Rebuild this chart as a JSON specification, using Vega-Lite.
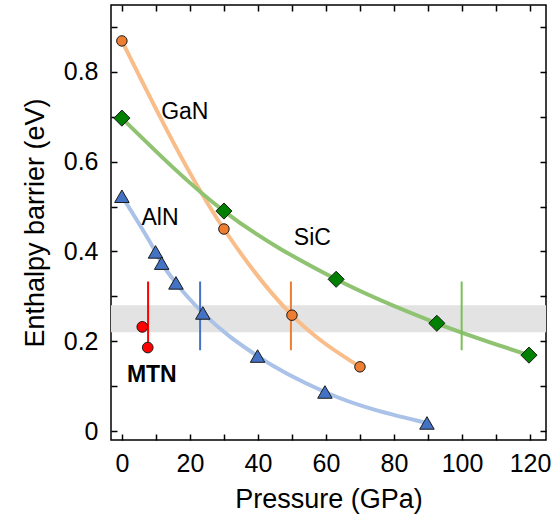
{
  "$schema": "https://vega.github.io/schema/vega-lite/v6.json",
  "width": 435,
  "height": 435,
  "autosize": "none",
  "padding": {"left": 111, "top": 5, "right": 5, "bottom": 80},
  "config": {
    "view": {"stroke": "#000", "strokeWidth": 1.5},
    "font": "Liberation Sans",
    "axis": {
      "domain": false, "grid": false, "tickColor": "#000", "tickSize": -6, "tickWidth": 1.5,
      "labelFontSize": 25, "labelColor": "#000", "titleFontSize": 27, "titleFontWeight": "normal",
      "titleColor": "#000", "labelFont": "Liberation Sans", "titleFont": "Liberation Sans"
    }
  },
  "datasets": {
    "band": [{"lo": 0.22, "hi": 0.28}],
    "curves": [
      {"s": "GaN", "p": 0, "e": 0.869}, {"s": "GaN", "p": 30, "e": 0.45}, {"s": "GaN", "p": 50, "e": 0.258}, {"s": "GaN", "p": 70, "e": 0.143},
      {"s": "SiC", "p": 0, "e": 0.697}, {"s": "SiC", "p": 30, "e": 0.49}, {"s": "SiC", "p": 63, "e": 0.338}, {"s": "SiC", "p": 92.6, "e": 0.24}, {"s": "SiC", "p": 119.7, "e": 0.169},
      {"s": "AlN", "p": 0, "e": 0.523}, {"s": "AlN", "p": 9.9, "e": 0.399}, {"s": "AlN", "p": 11.7, "e": 0.374}, {"s": "AlN", "p": 15.9, "e": 0.33}, {"s": "AlN", "p": 23.8, "e": 0.263}, {"s": "AlN", "p": 39.9, "e": 0.167}, {"s": "AlN", "p": 59.7, "e": 0.087}, {"s": "AlN", "p": 89.7, "e": 0.018}
    ],
    "mtn": [{"s": "MTN", "p": 6, "e": 0.232}, {"s": "MTN", "p": 7.6, "e": 0.186}],
    "bars": [
      {"s": "MTN", "p": 7.7, "hi": 0.333, "lo": 0.19},
      {"s": "AlN", "p": 23, "hi": 0.333, "lo": 0.18},
      {"s": "GaN", "p": 49.7, "hi": 0.333, "lo": 0.18},
      {"s": "SiC", "p": 99.9, "hi": 0.333, "lo": 0.18}
    ],
    "labels": [
      {"t": "GaN", "p": 18.5, "e": 0.71},
      {"t": "AlN", "p": 11.2, "e": 0.474},
      {"t": "SiC", "p": 56, "e": 0.43}
    ],
    "boldlabels": [
      {"t": "MTN", "p": 8.8, "e": 0.125}
    ]
  },
  "layer": [
    {
      "data": {"name": "band"},
      "mark": {"type": "rect", "color": "#e3e3e3"},
      "encoding": {
        "y": {"field": "lo", "type": "quantitative", "scale": {"domain": [-0.02, 0.949], "nice": false, "zero": false}, "axis": null},
        "y2": {"field": "hi"}
      }
    },
    {
      "data": {"name": "curves"},
      "mark": {"type": "line", "interpolate": "monotone", "strokeWidth": 4, "strokeCap": "round"},
      "encoding": {
        "x": {"field": "p", "type": "quantitative", "scale": {"domain": [-3.2, 124.7], "nice": false, "zero": false},
              "axis": {"orient": "top", "values": [0,10,20,30,40,50,60,70,80,90,100,110,120], "labels": false, "title": null}},
        "y": {"field": "e", "type": "quantitative", "scale": {"domain": [-0.02, 0.949], "nice": false, "zero": false},
              "axis": {"orient": "right", "values": [0,0.1,0.2,0.3,0.4,0.5,0.6,0.7,0.8,0.9], "labels": false, "title": null}},
        "color": {"field": "s", "type": "nominal", "legend": null,
                  "scale": {"domain": ["GaN", "SiC", "AlN"], "range": ["#f9bd8a", "#8fc371", "#aac2e8"]}},
        "detail": {"field": "s"}
      }
    },
    {
      "data": {"name": "bars"},
      "mark": {"type": "rule", "strokeWidth": 2},
      "encoding": {
        "x": {"field": "p", "type": "quantitative", "axis": null},
        "y": {"field": "hi", "type": "quantitative", "axis": null},
        "y2": {"field": "lo"},
        "stroke": {"field": "s", "type": "nominal", "legend": null,
                   "scale": {"domain": ["MTN", "AlN", "GaN", "SiC"], "range": ["#ff0000", "#4472c4", "#ed7d31", "#7cbf5a"]}}
      }
    },
    {
      "data": {"name": "curves"},
      "mark": {"type": "point", "filled": true, "stroke": "#1a1a1a", "strokeWidth": 1, "opacity": 1},
      "encoding": {
        "x": {"field": "p", "type": "quantitative",
              "axis": {"orient": "bottom", "values": [0,10,20,30,40,50,60,70,80,90,100,110,120],
                       "labelExpr": "datum.value % 20 == 0 ? datum.label : ''", "labelPadding": 17, "title": "Pressure (GPa)", "titlePadding": 10}},
        "y": {"field": "e", "type": "quantitative",
              "axis": {"orient": "left", "values": [0,0.1,0.2,0.3,0.4,0.5,0.6,0.7,0.8,0.9], "format": "~g",
                       "labelExpr": "round(datum.value*10) % 2 == 0 ? datum.label : ''", "labelPadding": 19, "title": "Enthalpy barrier (eV)", "titlePadding": 14}},
        "fill": {"field": "s", "type": "nominal", "legend": null,
                 "scale": {"domain": ["GaN", "SiC", "AlN"], "range": ["#ed7d31", "#008000", "#4472c4"]}},
        "shape": {"field": "s", "type": "nominal", "legend": null,
                  "scale": {"domain": ["GaN", "SiC", "AlN"], "range": ["circle", "diamond", "triangle-up"]}},
        "size": {"field": "s", "type": "nominal", "legend": null,
                 "scale": {"type": "ordinal", "domain": ["GaN", "SiC", "AlN"], "range": [110, 260, 210]}}
      }
    },
    {
      "data": {"name": "mtn"},
      "mark": {"type": "circle", "size": 115, "color": "#ff0000", "stroke": "#1a1a1a", "strokeWidth": 1, "opacity": 1},
      "encoding": {
        "x": {"field": "p", "type": "quantitative", "axis": null},
        "y": {"field": "e", "type": "quantitative", "axis": null}
      }
    },
    {
      "data": {"name": "labels"},
      "mark": {"type": "text", "fontSize": 23, "font": "Liberation Sans", "color": "#000"},
      "encoding": {
        "x": {"field": "p", "type": "quantitative", "axis": null},
        "y": {"field": "e", "type": "quantitative", "axis": null},
        "text": {"field": "t"}
      }
    },
    {
      "data": {"name": "boldlabels"},
      "mark": {"type": "text", "fontSize": 23, "fontWeight": "bold", "font": "Liberation Sans", "color": "#000"},
      "encoding": {
        "x": {"field": "p", "type": "quantitative", "axis": null},
        "y": {"field": "e", "type": "quantitative", "axis": null},
        "text": {"field": "t"}
      }
    }
  ],
  "resolve": {"axis": {"x": "independent", "y": "independent"}}
}
